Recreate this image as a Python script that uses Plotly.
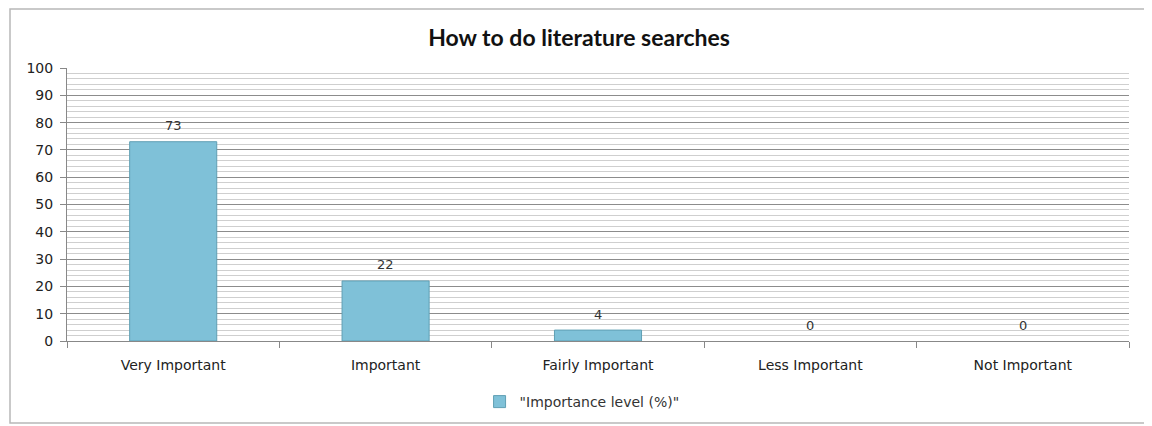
import plotly.graph_objects as go

categories = ["Very Important", "Important", "Fairly Important", "Less Important", "Not Important"]
values = [73, 22, 4, 0, 0]
series_name = '"Importance level (%)"'
title_text = "How to do literature searches"
y_ticks = [0, 10, 20, 30, 40, 50, 60, 70, 80, 90, 100]

# page body adds an 8px offset, so the figure is sized/margined to compensate
W, H = 1144, 418
L, T, R, B = 59, 60, 23, 85
pw, ph = W - L - R, H - T - B

fig = go.Figure()
fig.add_trace(go.Bar(
    x=categories, y=values, name=series_name,
    width=0.41,
    marker=dict(color="#7fc1d8",
                line=dict(color="#5f9fb4", width=[1 if v > 0 else 0 for v in values])),
    showlegend=True,
))
for c, v in zip(categories, values):
    fig.add_annotation(x=c, y=v, text=str(v), showarrow=False, yanchor="middle", yshift=16,
                       font=dict(family="DejaVu Sans", size=13, color="#333333"))

fig.update_layout(
    width=W, height=H,
    margin=dict(l=L, r=R, t=T, b=B, autoexpand=False),
    paper_bgcolor="white", plot_bgcolor="white",
    title=dict(text="<b>" + title_text + "</b>", x=571 / W, xanchor="center",
               y=1 - 30 / H, yref="container", yanchor="middle",
               font=dict(family="Lato", size=23, color="#111111")),
    font=dict(family="DejaVu Sans", size=14, color="#333333"),
    showlegend=True,
    legend=dict(orientation="h", x=0.485, xanchor="center", y=-61 / ph, yanchor="middle",
                font=dict(family="DejaVu Sans", size=14, color="#333333"),
                itemwidth=30),
    bargap=0.59,
)
fig.update_yaxes(
    range=[0, 100], tickvals=y_ticks, ticks="outside", ticklen=6, tickcolor="#888888",
    showgrid=True, gridcolor="#8c8c8c", gridwidth=1,
    minor=dict(dtick=2, showgrid=True, gridcolor="#cfcfcf", gridwidth=1),
    showline=True, linecolor="#888888", zeroline=False, automargin=False,
    ticklabelstandoff=4,
    tickfont=dict(family="DejaVu Sans", size=14, color="#222222"),
)
fig.update_xaxes(
    ticks="outside", tickson="boundaries", ticklen=6, tickcolor="#888888",
    showline=True, linecolor="#888888", showgrid=False, automargin=False,
    ticklabelstandoff=11,
    tickfont=dict(family="DejaVu Sans", size=14, color="#222222"),
)
fig.add_shape(type="rect", xref="paper", yref="paper",
              x0=-(L - 2) / pw, x1=1 + (R - 4) / pw, y0=-(B - 3) / ph, y1=1 + (T - 1) / ph,
              line=dict(color="#b8b8b8", width=1.5), layer="below")
fig.write_html("out.html")
